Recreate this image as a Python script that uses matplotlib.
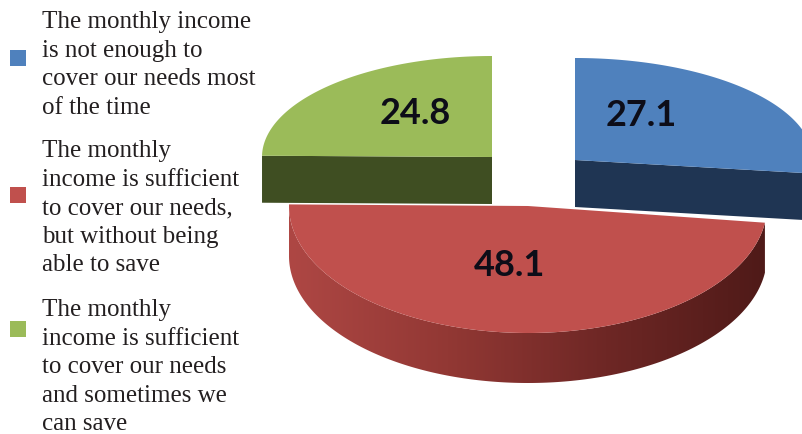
import numpy as np
import matplotlib.pyplot as plt
from matplotlib.patches import Polygon, Rectangle
from matplotlib.colors import LinearSegmentedColormap

# survey shares (percent), drawn clockwise from 12 o'clock
labels = [
    "The monthly income\nis not enough to\ncover our needs most\nof the time",
    "The monthly\nincome is sufficient\nto cover our needs,\nbut without being\nable to save",
    "The monthly\nincome is sufficient\nto cover our needs\nand sometimes we\ncan save",
]
values = [27.1, 48.1, 24.8]
top_colors = ["#4F81BD", "#C0504D", "#9BBB59"]
side_colors = ["#1F3553", "#7A2C2A", "#3F4E22"]

# per-slice ellipse geometry in pixels: apex x, apex y, semi-axes, thickness
geom = [
    dict(cx=575, cy=160, a=238, b=102, d=47),   # pulled out to the upper right
    dict(cx=528, cy=206, a=239, b=127, d=50),
    dict(cx=492, cy=157, a=230, b=101, d=47),   # pulled out to the upper left
]
label_pos = [(641, 116), (510, 266), (415, 113)]


def arc(g, t0, t1, n=200, dz=0):
    t = np.deg2rad(np.linspace(t0, t1, n))
    return np.column_stack([g["cx"] + g["a"] * np.cos(t),
                            g["cy"] - g["b"] * np.sin(t) + dz])


def edge_point(g, t):
    r = np.deg2rad(t)
    return np.array([g["cx"] + g["a"] * np.cos(r), g["cy"] - g["b"] * np.sin(r)])


fig = plt.figure(figsize=(8.03, 4.34), dpi=100)
ax = fig.add_axes([0, 0, 1, 1])
ax.set_xlim(0, 803)
ax.set_ylim(434, 0)
ax.axis("off")

# slice angle ranges (counterclockwise degrees)
spans = []
start = 90.0
for v in values:
    sweep = 360.0 * v / sum(values)
    spans.append((start - sweep, start))
    start -= sweep

rim_cmaps = {
    0: LinearSegmentedColormap.from_list("blueside", ["#2A4670", "#1A2D47"]),
    1: LinearSegmentedColormap.from_list(
        "redside", ["#AE4744", "#923834", "#6E2725", "#4F1A18"]),
}

order = [2, 0, 1]  # back slices first, the front one last
for i in order:
    g = geom[i]
    t0, t1 = spans[i]
    apex = np.array([g["cx"], g["cy"]])
    d = g["d"]

    # outer rim, only the part facing the viewer, shaded left to right
    lo = t0 % 360
    hi = lo + (t1 - t0)
    f0, f1 = max(lo, 180), min(hi, 360)
    if f1 > f0:
        pts = np.vstack([arc(g, f0, f1), arc(g, f1, f0, dz=d)])
        rim = Polygon(pts, closed=True, facecolor="none", edgecolor="none")
        ax.add_patch(rim)
        grad = np.linspace(0, 1, 256).reshape(1, -1)
        im = ax.imshow(grad, cmap=rim_cmaps[i], aspect="auto",
                       extent=[pts[:, 0].min(), pts[:, 0].max(),
                               pts[:, 1].max(), pts[:, 1].min()],
                       zorder=1)
        im.set_clip_path(rim)

    # cut face under the slice's lower straight edge
    if i != 1:
        t_cut = t0 if i == 0 else t1
        p = edge_point(g, t_cut)
        face = [apex, p, p + [0, d], apex + [0, d]]
        ax.add_patch(Polygon(face, closed=True, facecolor=side_colors[i],
                             edgecolor="none", zorder=1))

    top_poly = np.vstack([apex, arc(g, t0, t1)])
    ax.add_patch(Polygon(top_poly, closed=True, facecolor=top_colors[i],
                         edgecolor="none", zorder=2))

    ax.text(label_pos[i][0], label_pos[i][1], f"{values[i]:.1f}",
            ha="center", va="center", fontsize=26, fontweight="bold",
            family="Lato", color="#0D0D18", zorder=3)

# legend on the left
first_base = [28, 157, 316]
marker_y = [58, 195, 329]
step = 28.6
for i, lab in enumerate(labels):
    ax.add_patch(Rectangle((10, marker_y[i] - 8), 16, 16,
                           facecolor=top_colors[i], edgecolor="none"))
    for k, line in enumerate(lab.split("\n")):
        ax.text(42, first_base[i] + k * step, line, ha="left", va="baseline",
                fontsize=18, family="Liberation Serif", color="#231F20")

fig.savefig("out.png", dpi=100)
